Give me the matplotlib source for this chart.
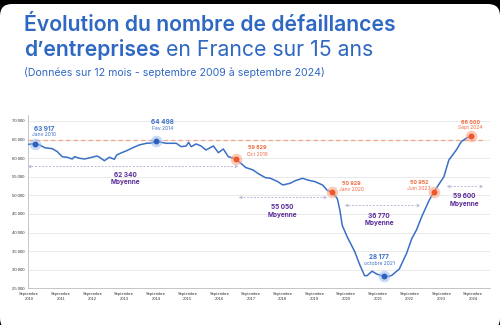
import matplotlib
matplotlib.use("Agg")
import matplotlib.pyplot as plt
from matplotlib.patches import FancyBboxPatch
import numpy as np
import pandas as pd

# Monthly series (12-month rolling count of business failures)
dates = ["2009-10", "2010-01", "2010-03", "2010-05", "2010-08", "2010-10", "2010-12",
         "2011-02", "2011-04", "2011-05", "2011-07", "2011-09", "2011-12",
         "2012-02", "2012-03", "2012-05", "2012-07", "2012-09", "2012-10", "2012-12",
         "2013-02", "2013-04", "2013-07", "2013-10", "2013-12",
         "2014-02", "2014-06", "2014-10", "2014-12",
         "2015-02", "2015-03", "2015-04", "2015-06", "2015-08", "2015-10",
         "2016-01", "2016-03", "2016-05", "2016-07", "2016-10",
         "2017-02", "2017-05", "2017-07", "2017-10", "2017-12",
         "2018-03", "2018-05", "2018-08", "2018-10",
         "2019-01", "2019-03", "2019-06", "2019-09", "2019-11",
         "2020-01", "2020-03", "2020-04", "2020-05", "2020-07", "2020-10", "2020-12",
         "2021-02", "2021-03", "2021-05", "2021-07", "2021-10", "2021-12",
         "2022-01", "2022-04", "2022-07", "2022-09", "2022-11",
         "2023-01", "2023-04", "2023-06", "2023-10", "2023-12",
         "2024-03", "2024-05", "2024-07", "2024-09"]
failures = [63700, 63917, 63500, 62800, 62550, 61750, 60400,
            60240, 59780, 60400, 59970, 59780, 60240,
            60590, 60240, 59320, 60240, 59700, 60860, 61480,
            62010, 62660, 63550, 64000, 64090,
            64498, 64000, 64000, 63090,
            63280, 64270, 63090, 63820, 63280, 62200,
            63280, 61480, 62470, 60400, 59829,
            57500, 56820, 55880, 54750, 54590,
            53680, 52790, 53250, 53940,
            54590, 54130, 53680, 52790, 51310,
            50929, 49100, 46100, 41900, 38800, 34900, 31400,
            28400, 28400, 29600, 28800, 28177, 28250,
            28500, 30200, 34500, 38300, 40800,
            44200, 48600, 50952, 55020, 59510,
            62200, 64440, 65350, 66000]

# Highlighted points
blue_dates = ["2010-01", "2014-02", "2021-10"]
blue_values = [63917, 64498, 28177]
blue_labels = ["Janv 2010", "Fév 2014", "octobre 2021"]
orange_dates = ["2016-10", "2020-01", "2023-06", "2024-09"]
orange_values = [59829, 50929, 50952, 66000]
orange_labels = ["Oct 2016", "Janv 2020", "Juin 2023", "Sept 2024"]

# Period averages
averages = [62340, 55050, 36770, 59600]

reference_level = 65000
y_ticks = [25000, 30000, 35000, 40000, 45000, 50000, 55000, 60000, 65000, 70000]
x_years = list(range(2010, 2025))


def dec_year(s):
    d = pd.Timestamp(s + "-01")
    return d.year + (d.month - 1) / 12.0


def fmt(v):
    return f"{v:,}".replace(",", " ")


BLUE = "#3a6fc6"
TITLE = "#2f68c2"
ORANGE = "#f0562b"
ORANGE_TXT = "#f06a40"
PURPLE = "#5a2c99"
ARROW = "#bdb8d8"

fig = plt.figure(figsize=(5, 3.25), dpi=100, facecolor="black")

# White card with rounded corners
bg = fig.add_axes([0, 0, 1, 1], zorder=0)
bg.set_xlim(0, 500)
bg.set_ylim(325, 0)
bg.axis("off")
bg.add_patch(FancyBboxPatch((0, 4), 500, 326, boxstyle="round,pad=0,rounding_size=12",
                            facecolor="white", edgecolor="none"))

ax = fig.add_axes([0.056, 0.1129, 0.924, 0.532], zorder=1)
ax.set_facecolor("white")

x = np.array([dec_year(d) for d in dates])
ax.plot(x, failures, color=BLUE, lw=1.1, zorder=4, solid_joinstyle="round")

ax.set_xlim(2009.765, 2025.30)
ax.set_ylim(25000, 71500)

# Reference level
ax.plot([2009.765, 2025.07], [reference_level] * 2, color="#f4a287", lw=0.9,
        dashes=(3.5, 2.5), zorder=3)

ax.set_yticks(y_ticks)
ax.set_yticklabels([fmt(v) for v in y_ticks], fontsize=3.1, color="#333333",
                   family="Liberation Sans")
ax.set_xticks(np.linspace(2009.80, 2024.73, len(x_years)))
ax.set_xticklabels([f"Septembre\n{y}" for y in x_years], fontsize=3.0, color="#333333",
                   family="Liberation Sans", linespacing=1.4)
ax.tick_params(length=0, pad=2.5)
ax.grid(axis="y", color="#e6e6e6", lw=0.6)
ax.set_axisbelow(True)
for s in ["top", "right"]:
    ax.spines[s].set_visible(False)
ax.spines["left"].set_color("#bbbbbb")
ax.spines["bottom"].set_color("#bbbbbb")
ax.spines["left"].set_linewidth(0.6)
ax.spines["bottom"].set_linewidth(0.6)

# Highlighted markers with glow
bx = [dec_year(d) for d in blue_dates]
ox = [dec_year(d) for d in orange_dates]
ax.scatter(bx, blue_values, s=70, color="#9dbdf0", alpha=0.55, lw=0, zorder=5)
ax.scatter(bx, blue_values, s=18, color="#2d5fbe", lw=0, zorder=6)
ax.scatter(ox, orange_values, s=70, color="#f9a98a", alpha=0.6, lw=0, zorder=5)
ax.scatter(ox, orange_values, s=18, color=ORANGE, lw=0, zorder=6)

# Value labels (value, then date)
blue_pos = [(2010.31, 67850, 66320), (2014.30, 69730, 68040), (2021.58, 33300, 31700)]
for v, lab, (tx, y1, y2) in zip(blue_values, blue_labels, blue_pos):
    ax.text(tx, y1, fmt(v), fontsize=4.6, fontweight="bold", color="#3a6fc6",
            ha="center", va="center", family="Inter", zorder=7)
    ax.text(tx, y2, lab, fontsize=3.6, color="#3a6fc6",
            ha="center", va="center", family="Inter", zorder=7)
orange_pos = [(2017.47, 62740, 60860), (2020.63, 53060, 51520),
              (2022.91, 53510, 51790), (2024.63, 69550, 68120)]
for v, lab, (tx, y1, y2) in zip(orange_values, orange_labels, orange_pos):
    ax.text(tx, y1, fmt(v), fontsize=3.9, fontweight="bold", color=ORANGE_TXT,
            ha="center", va="center", family="Inter", zorder=7)
    ax.text(tx, y2, lab, fontsize=3.6, color=ORANGE_TXT,
            ha="center", va="center", family="Inter", zorder=7)

# Average periods: dashed double-headed span and label
spans = [(2009.80, 2016.76, 57820, 2013.03, 54530),
         (2016.90, 2019.75, 49560, 2018.32, 45800),
         (2020.45, 2022.87, 47330, 2021.57, 43590),
         (2023.88, 2024.99, 52520, 2024.44, 48750)]
for avg, (x0, x1, ya, lx, ly) in zip(averages, spans):
    ax.plot([x0 + 0.08, x1 - 0.08], [ya, ya], color=ARROW, lw=0.7, dashes=(2, 1.6), zorder=3)
    ax.plot([x0], [ya], marker="<", ms=2.6, color=ARROW, mew=0, zorder=3)
    ax.plot([x1], [ya], marker=">", ms=2.6, color=ARROW, mew=0, zorder=3)
    ax.text(lx, ly, f"{fmt(avg)}\nMoyenne", fontsize=4.7, fontweight="bold", color=PURPLE,
            ha="center", va="center", family="Inter", linespacing=1.25, zorder=7)

# Title block
fig.text(0.048, 1 - 25 / 325, "Évolution du nombre de défaillances", fontsize=15.3,
         fontweight="semibold", color=TITLE, family="Inter", ha="left", va="center")
t2 = fig.text(0.048, 1 - 50 / 325, "d’entreprises", fontsize=15.3, fontweight="semibold",
              color=TITLE, family="Inter", ha="left", va="center")
ax.annotate(" en France sur 15 ans", xy=(1, 0), xycoords=t2, fontsize=15.3, color=TITLE,
            family="Inter", ha="left", va="bottom", annotation_clip=False)
fig.text(0.048, 1 - 72 / 325, "(Données sur 12 mois - septembre 2009 à septembre 2024)",
         fontsize=7.6, color=TITLE, family="Inter", ha="left", va="center")

fig.savefig("out.png", dpi=100, facecolor="black")
